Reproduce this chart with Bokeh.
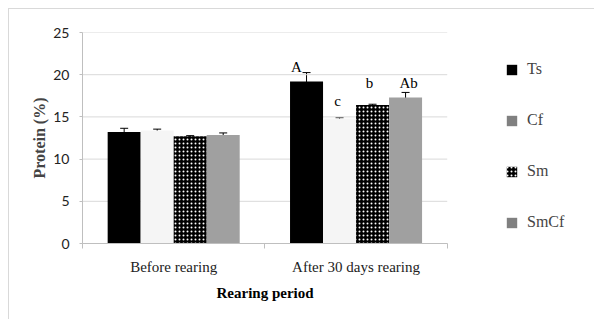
from bokeh.plotting import figure
from bokeh.models import (ColumnDataSource, Whisker, TeeHead, Legend, LegendItem,
                          FixedTicker, Range1d, Title)
from bokeh.core.properties import value
from bokeh.embed import file_html
from bokeh.resources import INLINE

# ---- data ----
periods = ["Before rearing", "After 30 days rearing"]
series = ["Ts", "Cf", "Sm", "SmCf"]
ts_vals = [13.2, 19.2]
cf_vals = [13.4, 14.8]
sm_vals = [12.7, 16.4]
smcf_vals = [12.85, 17.3]
ts_err = [0.45, 1.05]
cf_err = [0.15, 0.1]
sm_err = [0.08, 0.1]
smcf_err = [0.25, 0.6]
after_labels = ["A", "c", "b", "Ab"]
y_ticks = [0, 5, 10, 15, 20, 25]

values = [ts_vals, cf_vals, sm_vals, smcf_vals]
errors = [ts_err, cf_err, sm_err, smcf_err]

# ---- styles ----
SERIF = "Liberation Serif"
fills = ["#000000", "#f5f5f5", "#000000", "#a0a0a0"]
legend_fills = ["#000000", "#808080", "#000000", "#808080"]
bar_w = 0.181
group_x = [0.5, 1.5]
n_groups = len(periods)
label_dx = [-10, -2, -3, 3]
label_dy = [-6, -17, -21, -9]
GRID = "#d9d9d9"
AXIS = "#bfbfbf"

# frame spans to the right canvas edge so the legend can live inside it;
# the plotted categories occupy x in [0, 2]
p = figure(width=586, height=311, output_backend="svg", toolbar_location=None,
           x_range=Range1d(0, 2.813), y_range=Range1d(0, 25),
           min_border_left=73, min_border_right=0, min_border_top=23,
           min_border_bottom=77,
           styles={"margin-left": "8px", "margin-top": "8px",
                   "border-left": "1px solid #d9d9d9", "border-top": "1px solid #d9d9d9"})
p.outline_line_color = None
p.xgrid.grid_line_color = None
p.ygrid.grid_line_color = None

# horizontal gridlines limited to the category span
p.segment(x0=[0] * len(y_ticks), x1=[n_groups] * len(y_ticks), y0=y_ticks, y1=y_ticks,
          line_color=GRID, line_width=1)

renderers = []
proxies = []
for i, name in enumerate(series):
    xs = [g + (i - 1.5) * bar_w for g in group_x]
    src = ColumnDataSource(dict(x=xs, top=values[i],
                                upper=[v + e for v, e in zip(values[i], errors[i])],
                                lower=[v - e for v, e in zip(values[i], errors[i])]))
    kw = {}
    if name == "Sm":
        kw = dict(hatch_pattern="dot", hatch_color="white", hatch_scale=4, hatch_weight=1)
    r = p.vbar(x="x", top="top", width=bar_w, source=src, fill_color=fills[i],
               line_color=None, **kw)
    renderers.append(r)
    # zero-width proxy that only supplies the legend swatch colour
    proxies.append(p.vbar(x="x", top="top", width=0, source=src,
                          fill_color=legend_fills[i], line_color=None, **kw))
    w = Whisker(source=src, base="x", upper="upper", lower="lower",
                line_color="black", line_width=1,
                upper_head=TeeHead(size=8, line_color="black", line_width=1),
                lower_head=TeeHead(size=8, line_color="black", line_width=1))
    p.add_layout(w)

# letters above "after" bars
lab_src = ColumnDataSource(dict(
    x=[group_x[1] + (i - 1.5) * bar_w for i in range(4)],
    y=[values[i][1] + errors[i][1] for i in range(4)],
    text=after_labels, dx=label_dx, dy=label_dy))
p.text(x="x", y="y", text="text", x_offset="dx", y_offset="dy", source=lab_src,
       text_align="center", text_baseline="alphabetic",
       text_font=value(SERIF), text_font_size="15px", text_color="black")

# legend
items = [LegendItem(label=name, renderers=[proxies[i]]) for i, name in enumerate(series)]
legend = Legend(items=items, location=(423, 11), orientation="vertical",
                glyph_width=13, glyph_height=13, label_height=20, spacing=31,
                label_standoff=9, padding=0, margin=0,
                border_line_color=None, background_fill_alpha=0,
                label_text_font=SERIF, label_text_font_size="16px")
p.add_layout(legend, "center")

# axes
ax = p.xaxis[0]
ax.bounds = (0, n_groups)
ax.ticker = FixedTicker(ticks=group_x, minor_ticks=[0, 1, 2])
ax.major_label_overrides = {0.5: periods[0], 1.5: periods[1]}
ax.major_tick_line_color = None
ax.major_tick_out = 0
ax.major_tick_in = 0
ax.minor_tick_line_color = AXIS
ax.minor_tick_out = 5
ax.minor_tick_in = 0
ax.axis_line_color = AXIS
ax.major_label_standoff = 10
ax.major_label_text_font = SERIF
ax.major_label_text_font_size = "15px"
ax.major_label_text_color = "#222222"

# x-axis title, centred under the category span
xt = Title(text="Rearing period", align="left", offset=134, standoff=10,
           text_font=SERIF, text_font_style="bold", text_font_size="15px",
           text_color="black")
p.add_layout(xt, "below")

ay = p.yaxis[0]
ay.ticker = FixedTicker(ticks=y_ticks)
ay.axis_line_color = AXIS
ay.major_tick_line_color = AXIS
ay.major_tick_out = 3
ay.major_tick_in = 0
ay.minor_tick_line_color = None
ay.major_label_standoff = 10
ay.major_label_text_font = "Lato"
ay.major_label_text_font_size = "14px"
ay.major_label_text_color = "#222222"
ay.axis_label = "Protein (%)"
ay.axis_label_text_font = SERIF
ay.axis_label_text_font_style = "bold"
ay.axis_label_text_font_size = "16px"
ay.axis_label_standoff = 2

open("out.html", "w").write(file_html(p, INLINE))
